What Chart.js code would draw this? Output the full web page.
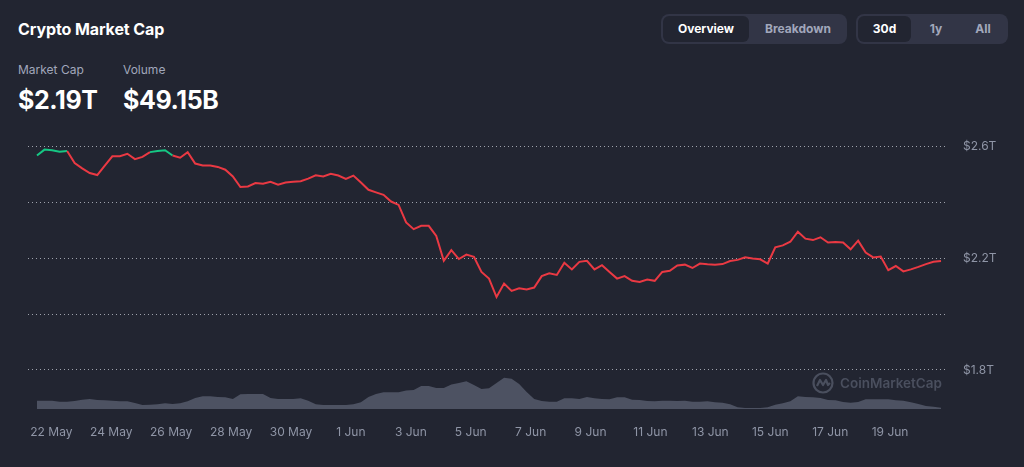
<!DOCTYPE html>
<html>
<head>
<meta charset="utf-8">
<script src="https://cdn.jsdelivr.net/npm/chart.js@4.4.1/dist/chart.umd.min.js"></script>
<style>
  html, body { margin: 0; padding: 0; }
  body { width: 1024px; height: 467px; background: #222531; font-family: Inter, "Noto Sans", sans-serif; color: #fff; position: relative; overflow: hidden; }
  .title { position: absolute; left: 18px; top: 19px; font-size: 16px; font-weight: 700; letter-spacing: -0.1px; }
  .lbl { position: absolute; top: 62px; font-size: 12px; color: #a1a7bb; }
  .big { position: absolute; top: 85px; font-size: 25px; font-weight: 700; letter-spacing: -0.4px; }
  .grp { position: absolute; top: 14px; height: 30px; background: #323546; border-radius: 8px; }
  .btn { position: absolute; top: 2px; height: 26px; line-height: 26px; font-size: 12px; font-weight: 700; color: #a1a7bb; text-align: center; border-radius: 6px; }
  .btn.on { background: #222531; color: #fff; }
  #wrap { position: absolute; left: 0; top: 113px; width: 1024px; height: 354px; }
  .wm { position: absolute; left: 812px; top: 372px; display: flex; align-items: center; color: #4a4f5e; font-size: 13.5px; font-weight: 600; }
  .wm svg { margin-right: 6px; }
</style>
</head>
<body>
<div class="title">Crypto Market Cap</div>
<div class="lbl" style="left:18px">Market Cap</div>
<div class="lbl" style="left:123px">Volume</div>
<div class="big" style="left:18px">$2.19T</div>
<div class="big" style="left:123px">$49.15B</div>

<div class="grp" style="left:661px;width:186px">
  <div class="btn on" style="left:2px;width:86px">Overview</div>
  <div class="btn" style="left:92px;width:90px">Breakdown</div>
</div>
<div class="grp" style="left:856px;width:152px">
  <div class="btn on" style="left:2px;width:53px">30d</div>
  <div class="btn" style="left:58px;width:44px">1y</div>
  <div class="btn" style="left:104px;width:46px">All</div>
</div>

<div id="wrap"><canvas id="grafico"></canvas></div>

<div class="wm">
  <svg width="22" height="22" viewBox="0 0 22 22"><circle cx="11" cy="11" r="9.5" fill="none" stroke="#4a4f5e" stroke-width="2.2"/><path d="M5 14 L8 8 L11 13 L14 8 L16 13 L18 11" fill="none" stroke="#4a4f5e" stroke-width="2.2" stroke-linejoin="round"/></svg>
  <span>CoinMarketCap</span>
</div>

<script>
// days counted from 22 May 00:00, one point every ~6h
const startDay = -0.48;
const stepDay = 0.2515;

// market cap in $T
const marketCap = [
  2.568, 2.589, 2.587, 2.581, 2.584, 2.541, 2.522, 2.505, 2.498, 2.532, 2.565, 2.565,
  2.574, 2.555, 2.563, 2.580, 2.584, 2.587, 2.568, 2.560, 2.580, 2.539, 2.532, 2.532,
  2.527, 2.517, 2.493, 2.455, 2.457, 2.469, 2.467, 2.474, 2.463, 2.471, 2.474, 2.476,
  2.485, 2.497, 2.493, 2.502, 2.496, 2.484, 2.496, 2.471, 2.445, 2.436, 2.427, 2.403,
  2.391, 2.328, 2.304, 2.316, 2.316, 2.280, 2.191, 2.229, 2.197, 2.213, 2.205, 2.151,
  2.127, 2.061, 2.109, 2.083, 2.092, 2.088, 2.095, 2.136, 2.146, 2.140, 2.184, 2.160,
  2.187, 2.191, 2.160, 2.175, 2.151, 2.127, 2.136, 2.119, 2.115, 2.124, 2.119, 2.151,
  2.155, 2.174, 2.177, 2.165, 2.181, 2.178, 2.177, 2.179, 2.190, 2.194, 2.203, 2.199,
  2.196, 2.181, 2.239, 2.246, 2.259, 2.295, 2.270, 2.265, 2.275, 2.256, 2.258, 2.256,
  2.232, 2.263, 2.220, 2.203, 2.206, 2.157, 2.172, 2.153, 2.160, 2.169, 2.179, 2.187,
  2.190
];

// volume in $B
const volume = [
  70, 70, 70, 67, 67, 69, 73, 75, 72, 71, 70, 68, 68, 63, 57, 58, 59, 62, 60, 62, 68, 78, 83, 83,
  81, 80, 75, 89, 90, 90, 90, 78, 75, 75, 75, 77, 70, 59, 57, 57, 57, 57, 59, 65, 81, 90, 95, 95,
  95, 100, 102, 114, 114, 108, 108, 118, 123, 128, 117, 105, 107, 123, 138, 135, 120, 96, 75, 69, 67, 67, 77, 77,
  75, 81, 77, 75, 74, 80, 80, 73, 72, 69, 68, 70, 70, 69, 70, 67, 67, 68, 65, 64, 59, 50, 48, 48,
  48, 50, 58, 62, 68, 83, 81, 80, 78, 72, 71, 66, 64, 66, 74, 74, 74, 74, 71, 70, 65, 60, 54, 52, 49
];

const tickLabels = ['22 May', '24 May', '26 May', '28 May', '30 May', '1 Jun', '3 Jun', '5 Jun',
  '7 Jun', '9 Jun', '11 Jun', '13 Jun', '15 Jun', '17 Jun', '19 Jun'];
const priceTicks = [1.8, 2.0, 2.2, 2.4, 2.6];
const shownPriceTicks = [1.8, 2.2, 2.6];

const verde = '#16c784';
const rojo = '#ea3943';
const base = marketCap[0];

const capPoints = marketCap.map((v, i) => ({ x: startDay + i * stepDay, y: v }));
const volPoints = volume.map((v, i) => ({ x: startDay + i * stepDay, y: v }));

const grafico = document.getElementById('grafico').getContext('2d');
new Chart(grafico, {
    type: 'line',
    data: {
        datasets: [{
            label: 'Market Cap',
            data: capPoints,
            yAxisID: 'y',
            borderWidth: 2,
            borderColor: rojo,
            pointRadius: 0,
            tension: 0,
            order: 1,
            segment: {
                borderColor: ctx => (ctx.p0.parsed.y >= base && ctx.p1.parsed.y >= base) ? verde : rojo
            }
        }, {
            label: 'Volume',
            data: volPoints,
            yAxisID: 'yv',
            borderWidth: 0,
            pointRadius: 0,
            fill: 'start',
            backgroundColor: '#4d5262',
            order: 2
        }]
    },
    options: {
        responsive: true,
        maintainAspectRatio: false,
        animation: false,
        layout: { padding: { left: 28, top: 5, right: 0, bottom: 0 } },
        plugins: { legend: { display: false }, tooltip: { enabled: false } },
        scales: {
            x: {
                type: 'linear',
                min: -0.78,
                max: 29.9,
                grid: { display: false, drawTicks: false },
                border: { display: false },
                afterBuildTicks: axis => { axis.ticks = tickLabels.map((t, i) => ({ value: i * 2 })); },
                afterFit: axis => { axis.height = 58; },
                ticks: {
                    autoSkip: false,
                    maxRotation: 0,
                    padding: 16,
                    color: '#8f95a6',
                    font: { family: 'Inter', size: 12 },
                    callback: v => tickLabels[Math.round(v / 2)]
                }
            },
            y: {
                position: 'right',
                min: 1.66,
                max: 2.637,
                border: { display: false, dash: [1, 3] },
                grid: { color: 'rgba(200,204,214,0.75)', lineWidth: 1, drawTicks: false },
                afterBuildTicks: axis => { axis.ticks = priceTicks.map(v => ({ value: v })); },
                afterFit: axis => { axis.width = 77; },
                ticks: {
                    padding: 16,
                    color: '#8f95a6',
                    font: { family: 'Inter', size: 12 },
                    callback: v => shownPriceTicks.some(s => Math.abs(s - v) < 1e-6) ? '$' + v.toFixed(1) + 'T' : ''
                }
            },
            yv: {
                display: false,
                min: 45,
                max: 860
            }
        }
    }
});
</script>
</body>
</html>
